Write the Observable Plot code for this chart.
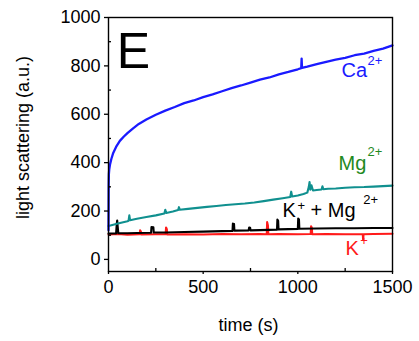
<!DOCTYPE html>
<html>
<head>
<meta charset="utf-8">
<script src="https://cdn.jsdelivr.net/npm/d3@7"></script>
<script src="https://cdn.jsdelivr.net/npm/@observablehq/plot@0.6"></script>
<style>
  html, body { margin: 0; padding: 0; background: #fff; }
  #chart svg { display: block; }
</style>
</head>
<body>
<div id="chart"></div>
<script>
// ---- data ----
const caT = [0, 1, 2, 4, 8, 15, 25, 40, 60, 80, 100, 130, 160, 200, 250, 300, 350, 400, 450, 500, 550, 600, 650, 700, 750, 800, 850, 900, 950, 1000, 1018, 1020, 1022, 1050, 1100, 1150, 1200, 1250, 1300, 1350, 1400, 1450, 1500];
const caV = [120, 300, 352, 372, 392, 415, 440, 465, 490, 507, 522, 542, 560, 578, 598, 615, 630, 646, 657, 671, 682, 695, 708, 719, 731, 743, 752, 765, 775, 786, 791, 830, 792, 797, 807, 817, 826, 833, 844, 851, 862, 871, 885];

const mgT = [0, 50, 100, 106, 110, 114, 150, 200, 250, 295, 300, 305, 340, 368, 372, 376, 420, 470, 520, 570, 620, 670, 720, 770, 820, 870, 920, 960, 965, 970, 1000, 1030, 1050, 1058, 1062, 1066, 1072, 1080, 1100, 1125, 1130, 1135, 1160, 1200, 1250, 1300, 1350, 1400, 1450, 1500];
const mgV = [138, 148, 158, 160, 182, 162, 168, 175, 182, 190, 205, 192, 198, 204, 216, 205, 209, 213, 217, 221, 225, 228, 231, 235, 241, 247, 253, 258, 280, 260, 264, 270, 276, 300, 320, 288, 306, 285, 287, 289, 302, 290, 292, 293, 296, 298, 299, 301, 303, 305];

const kmgT = [0, 40, 44, 46, 48, 52, 100, 150, 225, 227, 237, 239, 300, 400, 500, 600, 655, 657, 663, 665, 740, 743, 748, 750, 800, 890, 892, 896, 898, 950, 1000, 1002, 1006, 1008, 1100, 1200, 1300, 1400, 1500];
const kmgV = [107, 107, 150, 161, 140, 108, 108, 109, 110, 134, 133, 111, 111, 113, 115, 117, 118, 148, 146, 119, 120, 132, 131, 120, 121, 123, 165, 160, 124, 125, 126, 169, 165, 127, 128, 129, 129, 130, 130];

const kT = [0, 50, 100, 165, 167, 171, 173, 250, 302, 304, 308, 310, 400, 500, 600, 700, 800, 836, 838, 842, 844, 900, 1000, 1068, 1070, 1074, 1076, 1150, 1250, 1343, 1345, 1347, 1400, 1500];
const kV = [103, 105, 102, 104, 120, 115, 103, 104, 104, 132, 125, 103, 104, 103, 105, 104, 105, 104, 154, 140, 104, 105, 104, 105, 137, 130, 104, 105, 104, 104, 80, 104, 105, 106];

const xTicks = [0, 500, 1000, 1500];
const xMinor = [250, 750, 1250];
const yTicks = [0, 200, 400, 600, 800, 1000];
const yMinor = [100, 300, 500, 700, 900];

// series labels (main text + superscript)
const labText  = ["Ca", "Mg", "K", "+ Mg", "K"];
const labX     = [1231, 1215, 919, 1067, 1252];
const labY     = [753, 368, 174, 174, 17];
const labColor = ["#1a1aff", "#1f8a1f", "#000000", "#000000", "#ff1a1a"];
const supText  = ["2+", "2+", "+", "2+", "+"];
const supX     = [1368, 1368, 998, 1345, 1330];
const supY     = [805, 428, 205, 230, 58];
const supColor = ["#1a1aff", "#1f8a1f", "#000000", "#000000", "#ff1a1a"];

const panelLetter = "E";

// ---- build tables ----
const toRows = (T, V) => T.map((t, i) => ({t, v: V[i]}));
const ca = toRows(caT, caV), mg = toRows(mgT, mgV), kmg = toRows(kmgT, kmgV), k = toRows(kT, kV);
const labels = labText.map((s, i) => ({s, x: labX[i], y: labY[i], c: labColor[i]}));
const sups = supText.map((s, i) => ({s, x: supX[i], y: supY[i], c: supColor[i]}));

const font = "'Liberation Sans', Arial, Helvetica, sans-serif";

const chart = Plot.plot({
  width: 419,
  height: 341,
  marginLeft: 108,
  marginRight: 27,
  marginTop: 17,
  marginBottom: 70,
  style: {fontFamily: font, background: "#fff", color: "#000"},
  x: {domain: [0, 1500]},
  y: {domain: [-50, 1000]},
  marks: [
    Plot.line(k,   {x: "t", y: "v", stroke: "#ff1a1a", strokeWidth: 2.1}),
    Plot.line(kmg, {x: "t", y: "v", stroke: "#000000", strokeWidth: 2.1}),
    Plot.line(mg,  {x: "t", y: "v", stroke: "#10908f", strokeWidth: 2.1}),
    Plot.line(ca,  {x: "t", y: "v", stroke: "#1a1aff", strokeWidth: 2.3}),
    Plot.frame({stroke: "#000", strokeWidth: 1.4}),
    Plot.axisX({ticks: xTicks, tickSize: 3, tickPadding: 6, fontSize: 18, strokeWidth: 1.3, tickFormat: d3.format("d"), label: null}),
    Plot.axisX({ticks: xMinor, tickSize: 3, dy: -3, strokeWidth: 1.3, tickFormat: () => "", label: null}),
    Plot.axisY({ticks: yTicks, tickSize: 4, tickPadding: 4, fontSize: 18, strokeWidth: 1.3, tickFormat: d3.format("d"), label: null}),
    Plot.axisY({ticks: yMinor, tickSize: 3, dx: 3, strokeWidth: 1.3, tickFormat: () => "", label: null}),
    Plot.text(["light scattering (a.u.)"], {frameAnchor: "left", textAnchor: "middle", dx: -85, dy: -7, rotate: -90, fontSize: 18}),
    Plot.text(["time (s)"], {frameAnchor: "bottom", textAnchor: "middle", dx: -2, dy: 59, lineAnchor: "bottom", fontSize: 18}),
    Plot.text([panelLetter], {x: [44], y: [790], textAnchor: "start", lineAnchor: "bottom", fontSize: 50}),
    Plot.text(labels, {x: "x", y: "y", text: "s", fill: "c", textAnchor: "start", lineAnchor: "bottom", fontSize: 20}),
    Plot.text(sups, {x: "x", y: "y", text: "s", fill: "c", textAnchor: "start", lineAnchor: "bottom", fontSize: 13})
  ]
});
document.getElementById("chart").appendChild(chart);
</script>
</body>
</html>
